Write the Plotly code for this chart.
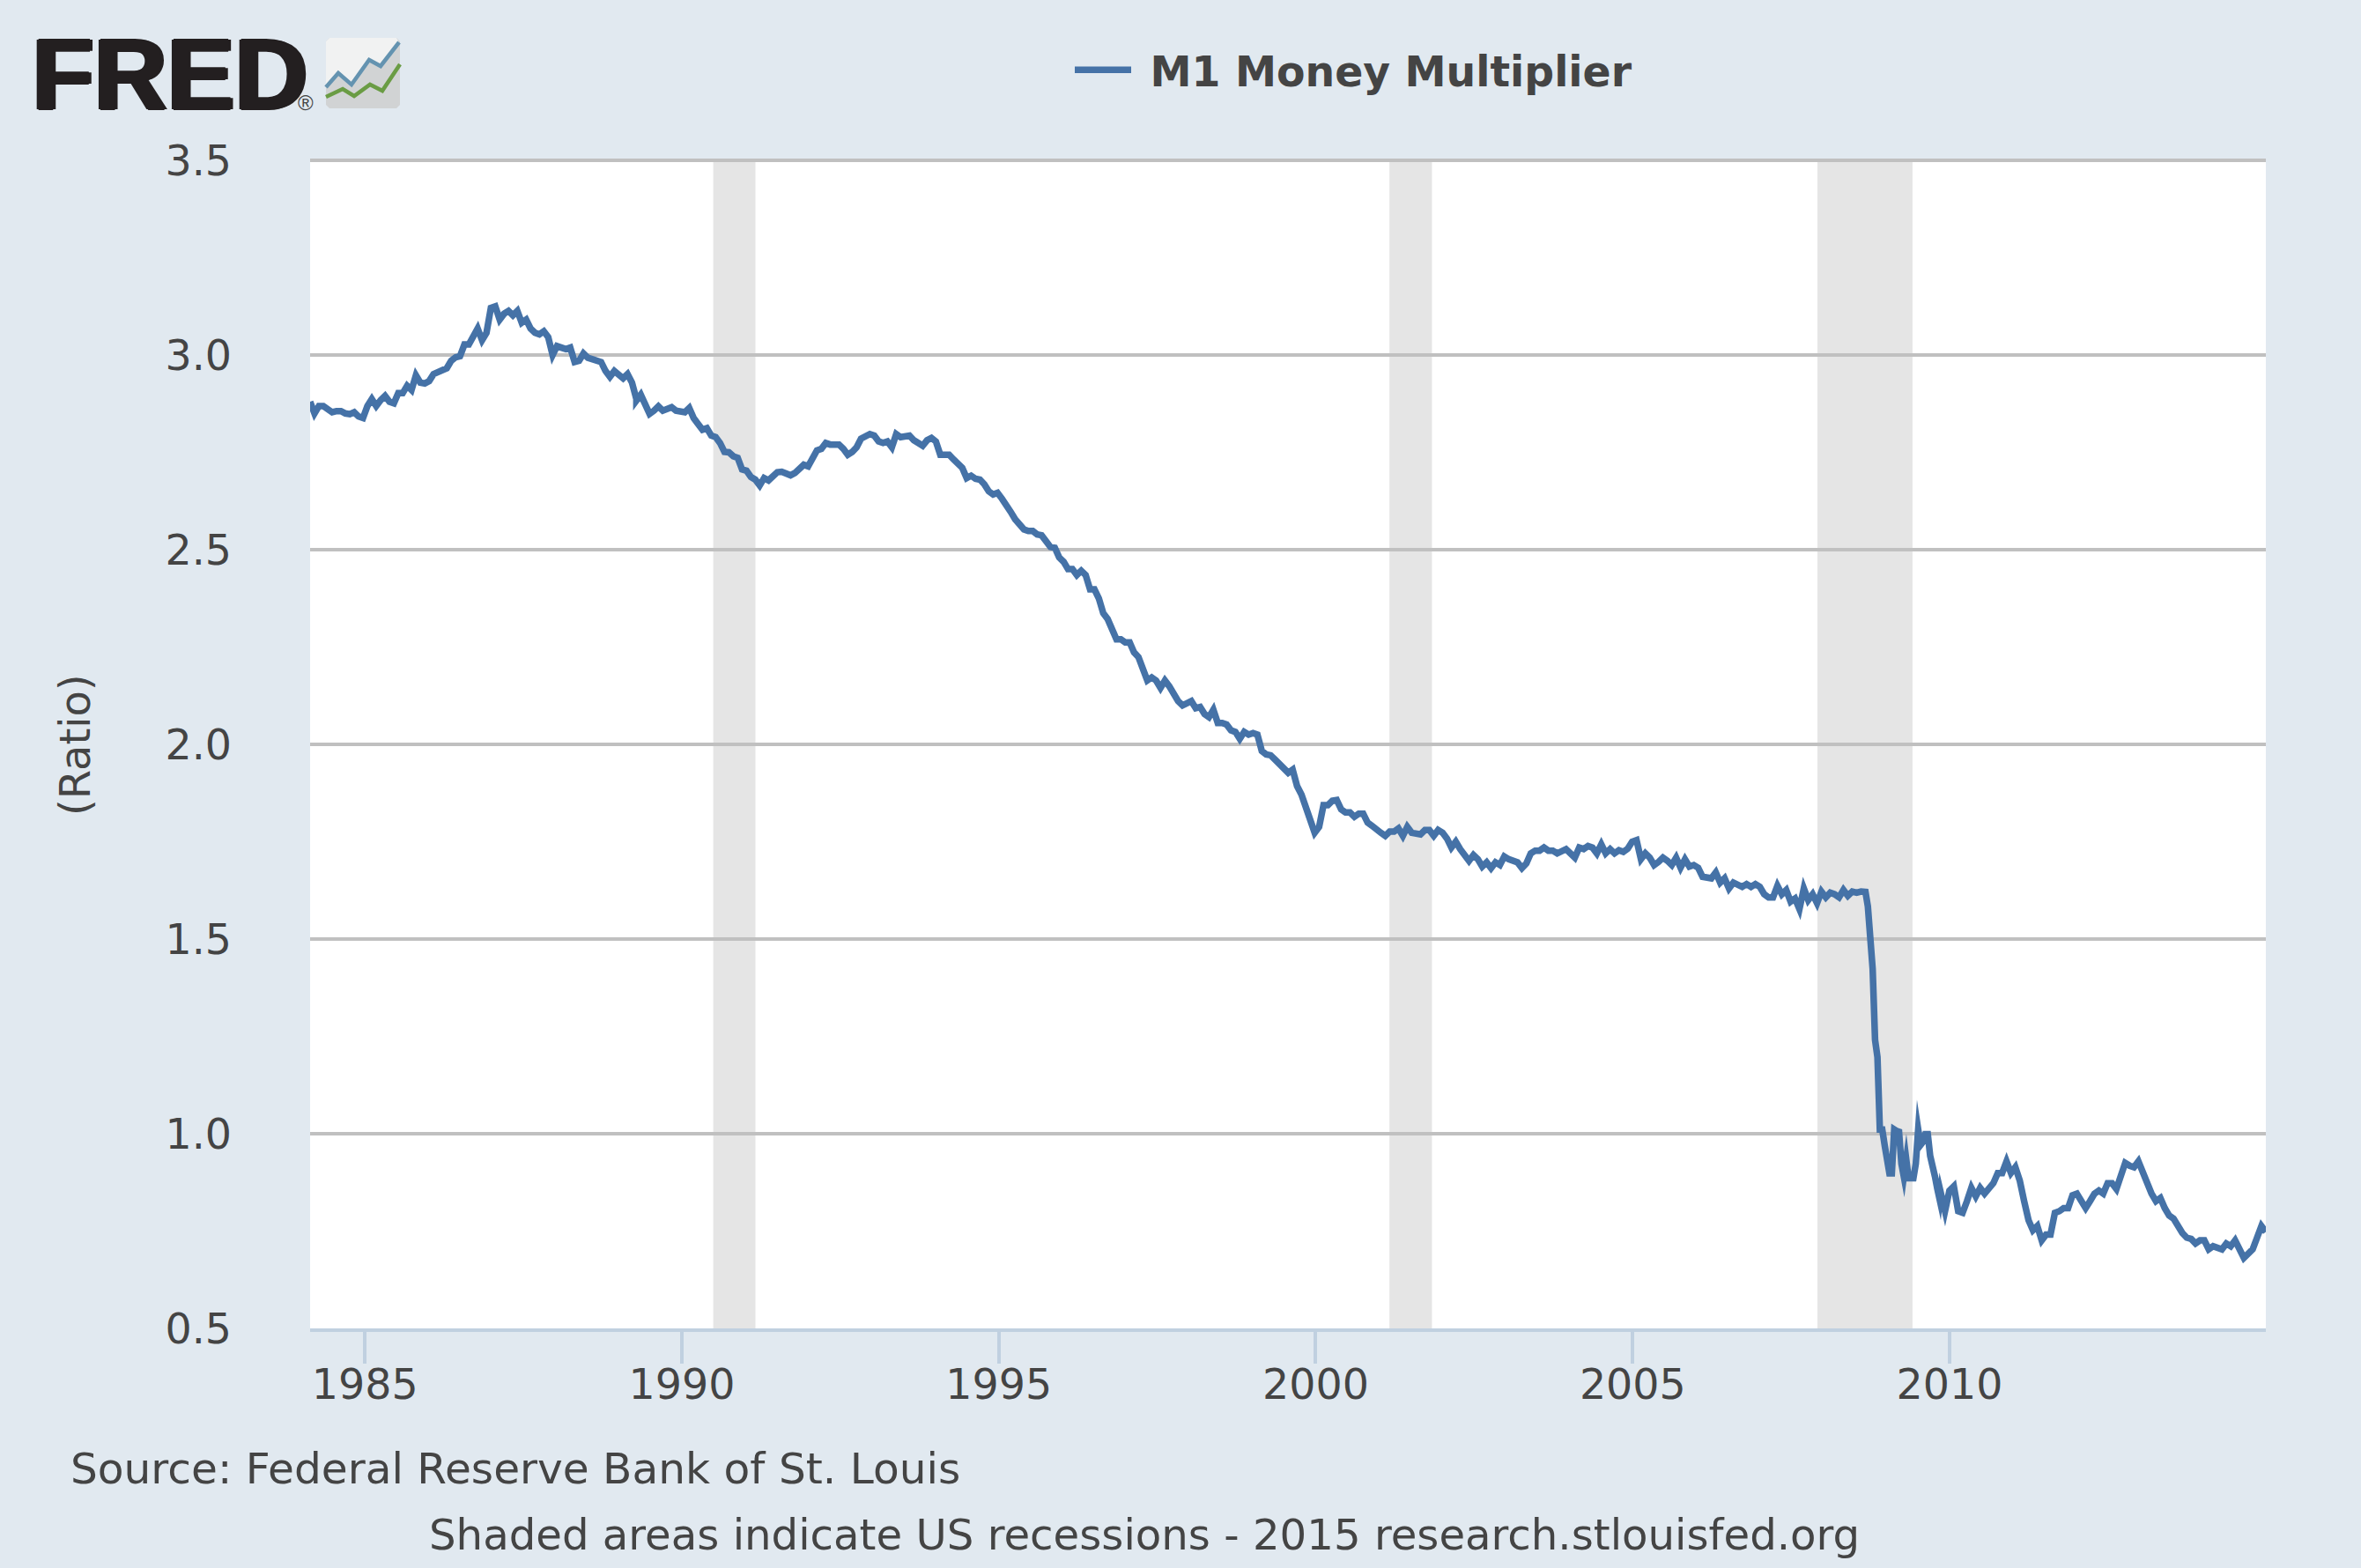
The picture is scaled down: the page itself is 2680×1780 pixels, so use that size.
import pandas as pd
import plotly.graph_objects as go

SERIES_NAME = "M1 Money Multiplier"
Y_TITLE = "(Ratio)"
SOURCE_TEXT = "Source: Federal Reserve Bank of St. Louis"
NOTE_TEXT = "Shaded areas indicate US recessions - 2015 research.stlouisfed.org"
RECESSION_START = ["1990-07-01", "2001-03-01", "2007-12-01"]
RECESSION_END = ["1991-03-01", "2001-11-01", "2009-06-01"]

m1_1984_1989 = [2.880,2.850,2.869,2.869,2.861,2.853,2.856,2.856,2.850,2.848,2.853,2.842,2.838,2.869,2.887,
 2.869,2.884,2.895,2.880,2.876,2.902,2.902,2.921,2.910,2.948,2.929,2.927,2.933,2.951,2.955,2.963,2.966,2.985,
 2.994,2.997,3.027,3.027,3.046,3.068,3.038,3.057,3.121,3.125,3.091,3.106,3.113,3.102,3.113,3.083,3.091,3.068,
 3.057,3.053,3.061,3.046,3.000,3.023,3.019,3.015,3.019,2.982,2.985,3.004,2.993,2.989,2.989,2.982,2.959,2.944,
 2.959,2.948,2.940,2.951,2.929,2.887]
m1_1989_1994 = [2.883,2.898,2.872,2.849,2.857,2.868,2.857,2.862,2.866,2.857,2.853,2.853,2.864,2.838,2.823,2.808,
 2.812,2.793,2.789,2.774,2.751,2.750,2.740,2.736,2.706,2.703,2.687,2.680,2.665,2.684,2.678,2.691,2.699,2.700,
 2.697,2.691,2.697,2.706,2.718,2.714,2.736,2.755,2.759,2.774,2.770,2.770,2.770,2.759,2.744,2.751,2.763,2.785,
 2.793,2.797,2.793,2.778,2.774,2.778,2.763,2.797,2.789,2.789,2.793,2.781,2.774,2.767,2.781,2.787,2.778,2.744,
 2.744,2.744,2.732,2.718,2.710]
m1_1994_1999 = [2.710,2.684,2.690,2.682,2.680,2.668,2.650,2.642,2.646,2.631,2.616,2.597,2.578,2.567,2.552,2.548,
 2.548,2.539,2.537,2.522,2.507,2.505,2.480,2.469,2.450,2.450,2.435,2.446,2.435,2.398,2.398,2.375,2.337,2.322,
 2.296,2.270,2.270,2.262,2.262,2.236,2.224,2.187,2.164,2.172,2.164,2.145,2.164,2.149,2.126,2.111,2.100,2.104,
 2.111,2.093,2.096,2.078,2.070,2.089,2.055,2.055,2.051,2.036,2.032,2.014,2.032,2.025,2.029,2.025,1.983,1.974,
 1.972,1.961,1.950,1.939,1.928]
m1_1999_2004 = [1.927,1.935,1.893,1.871,1.837,1.799,1.773,1.788,1.844,1.844,1.855,1.857,1.833,1.825,1.825,1.814,
 1.822,1.822,1.799,1.791,1.780,1.773,1.765,1.776,1.776,1.784,1.765,1.788,1.773,1.773,1.769,1.780,1.780,1.765,
 1.780,1.773,1.758,1.735,1.750,1.731,1.716,1.701,1.716,1.705,1.686,1.697,1.682,1.697,1.690,1.712,1.705,1.701,
 1.697,1.682,1.694,1.720,1.727,1.727,1.735,1.727,1.727,1.720,1.724,1.731,1.720,1.709,1.735,1.731,1.739,1.735,
 1.720,1.743,1.720,1.731,1.720]
m1_2004_2008 = [1.720,1.728,1.724,1.732,1.750,1.754,1.705,1.720,1.709,1.690,1.698,1.709,1.701,1.690,1.709,1.683,
 1.705,1.686,1.690,1.683,1.660,1.656,1.656,1.671,1.645,1.656,1.630,1.645,1.641,1.634,1.641,1.634,1.641,1.634,
 1.615,1.607,1.607,1.637,1.615,1.626,1.596,1.604,1.577,1.630,1.600,1.615,1.592,1.622,1.607,1.619,1.615,1.607,
 1.626,1.611,1.622,1.619,1.622,1.621]
m1_2008_2009 = [1.621,1.584,1.520,1.423,1.241,1.197,1.011,1.011,0.971,0.943,0.898,0.898,1.011,1.007,1.005,0.923,
 0.890,0.935,0.886,0.886,0.886,0.923,1.011,0.971,0.979,0.999,0.999,0.943,0.923,0.890,0.858,0.830]
m1_2009_2014 = [0.850,0.801,0.854,0.865,0.801,0.797,0.827,0.861,0.839,0.861,0.846,0.861,0.873,0.899,0.899,0.929,
 0.899,0.914,0.880,0.827,0.778,0.752,0.763,0.726,0.741,0.741,0.797,0.801,0.809,0.809,0.842,0.846,0.824,0.809,
 0.827,0.846,0.854,0.846,0.873,0.873,0.858,0.899,0.925,0.918,0.914,0.929,0.899,0.873,0.846,0.827,0.835,0.809,
 0.790,0.782,0.760,0.745,0.733,0.730,0.718,0.726,0.726,0.703,0.711,0.707,0.703,0.718,0.711,0.726,0.707,0.681,
 0.692,0.703,0.733,0.763,0.748]

BLOCKS = [
    ("1984-02-20", "1989-04-14", m1_1984_1989),
    ("1989-04-14", "1994-06-05", m1_1989_1994),
    ("1994-06-05", "1999-07-27", m1_1994_1999),
    ("1999-07-27", "2004-09-18", m1_1999_2004),
    ("2004-09-18", "2008-09-03", m1_2004_2008),
    ("2008-09-03", "2009-11-05", m1_2008_2009),
    ("2009-11-10", "2014-12-28", m1_2009_2014),
]
dates, values = [], []
for start, end, vals in BLOCKS:
    dates.extend(pd.date_range(start, end, periods=len(vals)))
    values.extend(vals)

W, H = 2680, 1780
L, R, T, B = 352, 2572, 182, 1508
BG = "#E1E9F0"
TEXT = "#444444"
FONT = "DejaVu Sans"
px = lambda x: (x - L) / (R - L)
py = lambda y: (B - y) / (B - T)


def path(points, close=False):
    s = "M " + " L ".join(f"{px(x):.5f},{py(y):.5f}" for x, y in points)
    return s + (" Z" if close else "")


fig = go.Figure(go.Scatter(x=dates, y=values, mode="lines", name="\u00a0" + SERIES_NAME,
                           line=dict(color="#4572A7", width=7.5), hoverinfo="skip"))

shapes = [dict(type="rect", xref="x", yref="paper", x0=a, x1=b, y0=0, y1=1, layer="below",
               fillcolor="#E5E5E5", line=dict(width=0))
          for a, b in zip(RECESSION_START, RECESSION_END)]

# Top gridline, which Plotly leaves out at the edge of the plot area
shapes.append(dict(type="line", xref="paper", yref="paper", x0=0, x1=1, y0=1, y1=1, layer="above",
                   line=dict(color="#C0C0C0", width=4)))

# FRED logo icon
logo = dict(xref="paper", yref="paper", layer="above")
shapes += [
    dict(type="path", path=path([(374, 43), (450, 43), (454, 47), (454, 119), (450, 123), (374, 123), (370, 119), (370, 47)], True),
         fillcolor="#D1D3D4", line=dict(width=0), **logo),
    dict(type="path", path=path([(374, 43), (450, 43), (453, 48), (432, 75), (419, 68), (399, 96), (384, 83), (370, 99), (370, 47)], True),
         fillcolor="#F1F2F2", line=dict(width=0), **logo),
    dict(type="path", path=path([(370, 99), (384, 83), (399, 96), (419, 68), (432, 75), (453, 48)]),
         line=dict(color="#6493B0", width=4.5), **logo),
    dict(type="path", path=path([(370, 110), (389, 101), (402, 109), (420, 96), (434, 103), (454, 73)]),
         line=dict(color="#6A9C44", width=4.5), **logo),
]

annotations = [
    dict(text="FRED", x=px(34), y=py(84), xref="paper", yref="paper", xanchor="left", yanchor="middle", showarrow=False,
         font=dict(family="Liberation Sans", size=115, color="#231F20", weight="bold",
                   shadow="3px 0 0 #231F20, -2px 0 0 #231F20, 0 1px 0 #231F20, 0 -1px 0 #231F20")),
    dict(text="®", x=px(347), y=py(117), xref="paper", yref="paper", xanchor="center", yanchor="middle", showarrow=False,
         font=dict(family="Liberation Sans", size=24, color="#444444")),
    dict(text=Y_TITLE, x=px(85), y=py(846), xref="paper", yref="paper", xanchor="center", yanchor="middle",
         textangle=-90, showarrow=False, font=dict(family=FONT, size=48, color=TEXT)),
    dict(text=SOURCE_TEXT, x=px(78), y=py(1667), xref="paper", yref="paper", xanchor="left", yanchor="middle",
         showarrow=False, font=dict(family=FONT, size=48.6, color=TEXT)),
    dict(text=NOTE_TEXT, x=px(485), y=py(1742), xref="paper", yref="paper", xanchor="left", yanchor="middle",
         showarrow=False, font=dict(family=FONT, size=48.2, color=TEXT)),
]

fig.update_layout(
    width=W, height=H, autosize=False,
    margin=dict(l=L, r=W - R, t=T, b=H - B, pad=0),
    paper_bgcolor=BG, plot_bgcolor="#FFFFFF",
    font=dict(family=FONT, color=TEXT, size=48),
    showlegend=True,
    legend=dict(orientation="h", x=px(1215), y=py(42), xanchor="left", yanchor="top", bgcolor="rgba(0,0,0,0)",
                itemwidth=64, font=dict(family=FONT, size=47.3, color=TEXT, weight="bold")),
    shapes=shapes, annotations=annotations,
    xaxis=dict(type="date", range=["1984-02-20", "2014-12-28"], tick0="1985-01-01", dtick="M60", tickformat="%Y",
               showgrid=False, zeroline=False, showline=True, linecolor="#C0D0E0", linewidth=4,
               ticks="outside", ticklen=36, tickwidth=4, tickcolor="#C0D0E0", ticklabelstandoff=-17,
               tickfont=dict(family=FONT, size=47.5, color=TEXT)),
    yaxis=dict(range=[0.5, 3.5], tick0=0.5, dtick=0.5, tickformat=".1f", zeroline=False,
               showgrid=True, gridcolor="#C0C0C0", gridwidth=4, showline=False, ticks="",
               ticklabelstandoff=88, tickfont=dict(family=FONT, size=47.5, color=TEXT)),
)

post = """
document.body.style.margin='0';
var st=document.createElement('style');
st.textContent='.js-line{stroke-linejoin:miter !important;stroke-miterlimit:10 !important}';
document.head.appendChild(st);
"""
fig.write_html("out.html", post_script=post, config={"displayModeBar": False})
